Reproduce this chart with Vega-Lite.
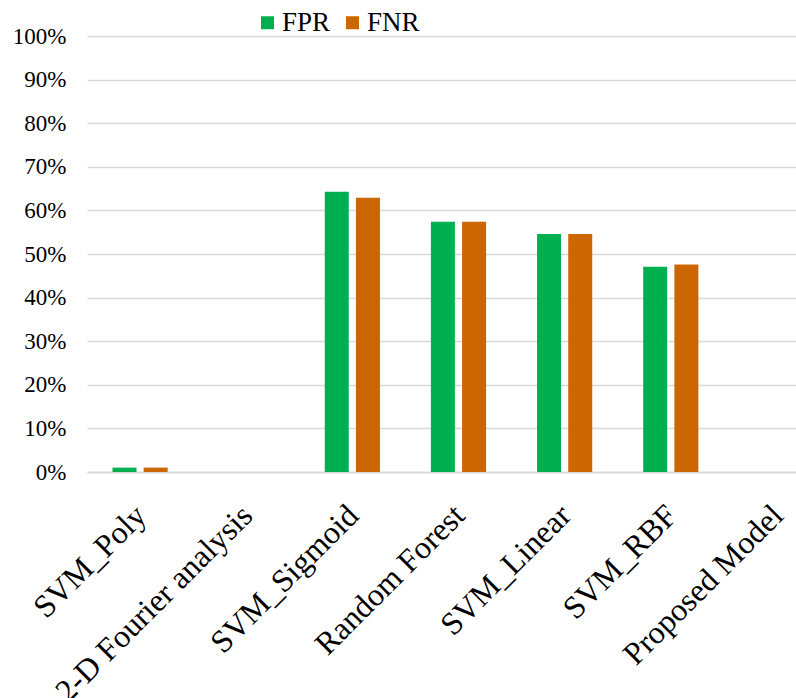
{
  "$schema": "https://vega.github.io/schema/vega-lite/v6.json",
  "width": 709,
  "height": 436,
  "autosize": {"type": "none"},
  "padding": {"left": 87, "top": 36, "right": 0, "bottom": 226},
  "background": "white",
  "data": {
    "values": [
      {"model": "SVM_Poly", "metric": "FPR", "value": 0.010},
      {"model": "SVM_Poly", "metric": "FNR", "value": 0.010},
      {"model": "2-D Fourier analysis", "metric": "FPR", "value": 0},
      {"model": "2-D Fourier analysis", "metric": "FNR", "value": 0},
      {"model": "SVM_Sigmoid", "metric": "FPR", "value": 0.643},
      {"model": "SVM_Sigmoid", "metric": "FNR", "value": 0.629},
      {"model": "Random Forest", "metric": "FPR", "value": 0.574},
      {"model": "Random Forest", "metric": "FNR", "value": 0.574},
      {"model": "SVM_Linear", "metric": "FPR", "value": 0.546},
      {"model": "SVM_Linear", "metric": "FNR", "value": 0.546},
      {"model": "SVM_RBF", "metric": "FPR", "value": 0.471},
      {"model": "SVM_RBF", "metric": "FNR", "value": 0.476},
      {"model": "Proposed Model", "metric": "FPR", "value": 0},
      {"model": "Proposed Model", "metric": "FNR", "value": 0}
    ]
  },
  "mark": {"type": "bar"},
  "encoding": {
    "x": {
      "field": "model",
      "type": "nominal",
      "sort": null,
      "scale": {"paddingInner": 0.48, "paddingOuter": 0.24, "range": [0, 743]},
      "axis": {
        "title": null,
        "labelAngle": -45,
        "labelAlign": "right",
        "labelBaseline": "middle",
        "labelFont": "Liberation Serif",
        "labelFontSize": 32,
        "labelColor": "#000000",
        "labelPadding": 38,
        "labelOffset": 1,
        "labelLimit": 400,
        "labelOverlap": false,
        "labelBound": false,
        "ticks": false,
        "domainColor": "#d9d9d9",
        "domainWidth": 1.5,
        "grid": false
      }
    },
    "xOffset": {
      "field": "metric",
      "type": "nominal",
      "sort": ["FPR", "FNR"],
      "scale": {"paddingInner": 0.23}
    },
    "y": {
      "field": "value",
      "type": "quantitative",
      "scale": {"domain": [0, 1], "nice": false},
      "axis": {
        "title": null,
        "format": ".0%",
        "values": [0, 0.1, 0.2, 0.3, 0.4, 0.5, 0.6, 0.7, 0.8, 0.9, 1],
        "labelFont": "Liberation Serif",
        "labelFontSize": 23,
        "labelColor": "#000000",
        "labelPadding": 21,
        "ticks": false,
        "domain": false,
        "gridColor": "#d9d9d9",
        "gridWidth": 1.5
      }
    },
    "color": {
      "field": "metric",
      "type": "nominal",
      "sort": ["FPR", "FNR"],
      "scale": {"domain": ["FPR", "FNR"], "range": ["#00b050", "#cc6600"]},
      "legend": {
        "title": null,
        "orient": "none",
        "direction": "horizontal",
        "legendX": 167,
        "legendY": -27,
        "symbolType": "square",
        "symbolSize": 169,
        "symbolStrokeWidth": 0,
        "labelFont": "Liberation Serif",
        "labelFontSize": 27,
        "labelColor": "#000000",
        "labelOffset": 1,
        "columnPadding": 8
      }
    }
  },
  "config": {"view": {"stroke": null}}
}
